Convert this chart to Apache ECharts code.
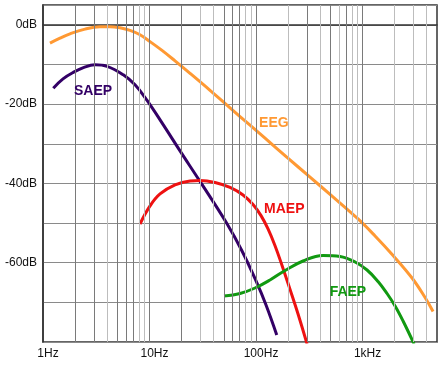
<!DOCTYPE html>
<html>
<head>
<meta charset="utf-8">
<script src="https://cdn.jsdelivr.net/npm/echarts@6/dist/echarts.min.js"></script>
<style>
html,body{margin:0;padding:0;background:#fff;}
#chart{width:444px;height:368px;}
</style>
</head>
<body>
<div id="chart"></div>
<script>
// Frequencies (Hz) and levels (dB)
const eegFreq  = [1.163, 1.444, 1.793, 2.48, 3.43, 4.257, 5.284, 6.56, 8.142, 10.11, 13.1, 17.35, 24.01, 37.0, 57.0, 87.8, 121.5, 195.5, 321.4, 495.3, 907.2, 1311, 1934, 2916, 3864, 4592];
const eegDb    = [-4.62, -3.36, -2.27, -1.09, -0.50, -0.48, -0.76, -1.41, -2.52, -4.24, -6.46, -9.09, -12.24, -16.53, -20.95, -25.32, -28.6, -33.44, -38.41, -42.78, -48.96, -53.26, -58.18, -63.86, -68.78, -72.31];

const saepFreq = [1.249, 1.541, 1.925, 2.427, 3.078, 3.991, 5.675, 7.308, 9.412, 13.48, 19.34, 29.8, 53.08, 73.87, 100, 124.1, 156.5];
const saepDb   = [-15.98, -13.63, -11.99, -10.73, -10.1, -10.47, -12.62, -15.14, -18.93, -25.24, -31.8, -39.5, -50.05, -57.04, -64.61, -70.67, -78.24];

const maepFreq = [8.142, 10.11, 12.55, 17.35, 24.01, 29.8, 41.21, 57.0, 75.48, 93.72, 111.4, 129.6, 150.8, 175.4, 208.6, 248.0, 301.3];
const maepDb   = [-50.23, -45.68, -42.66, -40.38, -39.37, -39.25, -39.75, -41.01, -42.91, -45.31, -48.13, -51.49, -55.73, -60.68, -66.73, -72.94, -80.5];

const faepFreq = [50.06, 70.76, 97.86, 135.3, 187.3, 276.3, 425.8, 614.8, 850.3, 1102, 1398, 1698, 2020, 2401, 3045];
const faepDb   = [-68.4, -67.77, -66.38, -64.36, -61.96, -59.57, -58.18, -58.43, -59.82, -61.84, -64.74, -67.77, -70.92, -74.71, -80.5];

const seriesNames  = ['EEG', 'SAEP', 'MAEP', 'FAEP'];
const labelFreq    = [147, 2.95, 184, 729];
const labelDb      = [-24.7, -16.8, -46.6, -67.4];

const xTickValues  = [1, 10, 100, 1000];
const xTickLabels  = ['1Hz', '10Hz', '100Hz', '1kHz'];
const yTickValues  = [0, -20, -40, -60];
const yTickLabels  = ['0dB', '-20dB', '-40dB', '-60dB'];

const gridDark  = [2, 3, 5, 6, 7, 10, 20, 50, 60, 70, 100, 300, 500, 700, 1000];
const gridLight = [4, 8, 9, 30, 40, 80, 90, 200, 400, 600, 800, 900, 2000, 3000, 4000];

const colors = {EEG: '#FF9933', SAEP: '#330066', MAEP: '#EE1111', FAEP: '#119911'};
const dataMap = {
  EEG: [eegFreq, eegDb], SAEP: [saepFreq, saepDb],
  MAEP: [maepFreq, maepDb], FAEP: [faepFreq, faepDb]
};

const FONT = '"Liberation Sans", Arial, sans-serif';

const chart = echarts.init(document.getElementById('chart'), null, {renderer: 'canvas'});

const series = seriesNames.map((name, i) => {
  const [fx, dy] = dataMap[name];
  return {
    name: name,
    type: 'line',
    smooth: 0.4,
    showSymbol: false,
    z: 3,
    lineStyle: {color: colors[name], width: 3},
    itemStyle: {color: colors[name]},
    data: fx.map((f, k) => [f, dy[k]]),
    markPoint: {
      silent: true,
      symbol: 'circle',
      symbolSize: 0,
      data: [{
        coord: [labelFreq[i], labelDb[i]],
        label: {
          show: true, position: 'inside', formatter: name,
          color: colors[name], fontFamily: FONT, fontWeight: 'bold', fontSize: 14
        }
      }]
    }
  };
});

// Grid lines (log decade subdivisions)
series.unshift({
  type: 'line',
  z: 1,
  silent: true,
  showSymbol: false,
  lineStyle: {opacity: 0},
  data: [[1, -100]],
  markLine: {
    silent: true,
    symbol: ['none', 'none'],
    label: {show: false},
    animation: false,
    data: gridDark.map(v => ({xAxis: v, lineStyle: {color: '#7a7a7a', width: 1, type: 'solid'}}))
      .concat(gridLight.map(v => ({xAxis: v, lineStyle: {color: '#bdbdbd', width: 1, type: 'solid'}})))
  }
});

chart.setOption({
  backgroundColor: '#ffffff',
  animation: false,
  grid: {left: 43, right: 7, top: 5, bottom: 26, show: true, borderColor: '#333', borderWidth: 1.5, backgroundColor: 'transparent'},
  xAxis: {
    type: 'log',
    logBase: 10,
    min: 1,
    max: 5000,
    axisLine: {show: true, lineStyle: {color: '#333', width: 1.5}},
    axisTick: {show: false},
    splitLine: {show: false},
    axisLabel: {
      color: '#111', fontFamily: FONT, fontSize: 12, margin: 6,
      padding: [0, 0, 0, 10],
      showMaxLabel: false,
      formatter: function (v) {
        const idx = xTickValues.findIndex(t => Math.abs(t - v) / t < 1e-6);
        return idx >= 0 ? xTickLabels[idx] : '';
      }
    }
  },
  yAxis: {
    type: 'value',
    min: -80,
    max: 5,
    interval: 10,
    axisLine: {show: true, lineStyle: {color: '#333', width: 1.5}},
    axisTick: {show: false},
    splitLine: {show: true, lineStyle: {color: '#8a8a8a', width: 1}},
    axisLabel: {
      color: '#111', fontFamily: FONT, fontSize: 12, margin: 6,
      showMaxLabel: false,
      formatter: function (v) {
        const idx = yTickValues.indexOf(v);
        return idx >= 0 ? yTickLabels[idx] : '';
      }
    }
  },
  series: series
});
</script>
</body>
</html>
